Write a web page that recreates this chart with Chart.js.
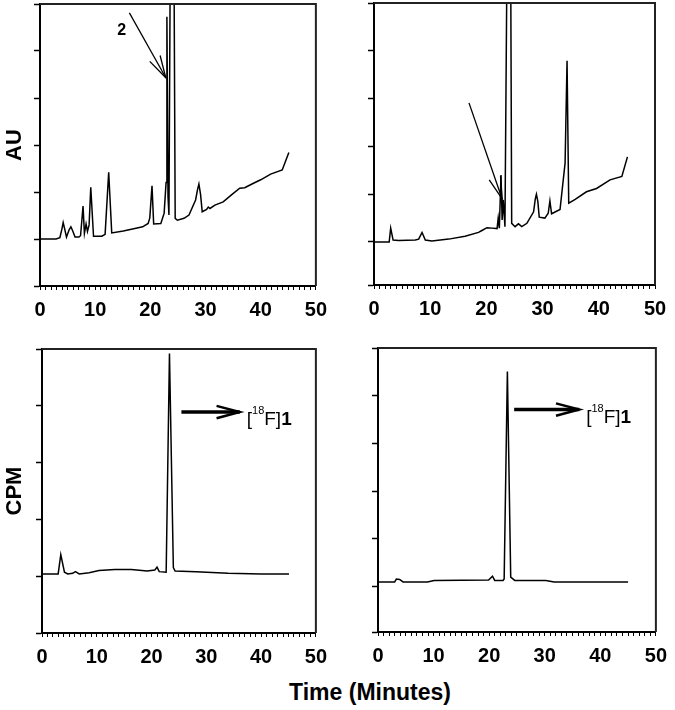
<!DOCTYPE html>
<html>
<head>
<meta charset="utf-8">
<script src="https://cdn.jsdelivr.net/npm/chart.js@4.4.0/dist/chart.umd.min.js"></script>
<style>
  html, body { margin: 0; padding: 0; background: #fff; width: 675px; height: 710px; overflow: hidden; }
  body { position: relative; }
  canvas { position: absolute; }
  #xtitle { position: absolute; left: 220px; width: 300px; top: 680px; text-align: center;
            font: bold 23px "Liberation Sans", Arial, sans-serif; line-height: 24px; color: #000; }
</style>
</head>
<body>
<canvas id="c1" width="335" height="330" style="left:0px;top:0px"></canvas>
<canvas id="c2" width="340" height="330" style="left:335px;top:0px"></canvas>
<canvas id="c3" width="335" height="345" style="left:0px;top:330px"></canvas>
<canvas id="c4" width="340" height="345" style="left:335px;top:330px"></canvas>
<div id="xtitle">Time (Minutes)</div>
<script>
// ---------- data (time in minutes, detector response in tick units) ----------
const timeUV1 = [0, 2.9, 3.6, 3.95, 4.2, 4.5, 4.8, 5.3, 5.6, 5.9, 6.35, 7.05, 7.35, 7.8, 8.05, 8.35, 8.6, 8.9, 9.2, 9.7, 11.2, 11.8, 12.45, 13.0, 15.1, 17.4, 18.6, 19.6, 19.9, 20.3, 20.6, 21.9, 22.5, 22.85, 23.0, 23.2, 23.37, 23.7, 24.2, 24.5, 24.9, 26.1, 27.0, 28.2, 28.55, 28.8, 29.1, 29.4, 30.2, 30.5, 30.8, 31.7, 33.2, 34.7, 36.2, 37.1, 38.6, 40.0, 41.8, 43.9, 45.1];
const auUV1   = [0, 0, 0.03, 0.2, 0.35, 0.2, 0.04, 0.2, 0.26, 0.18, 0.04, 0.04, 0.07, 0.70, 0.12, 0.32, 0.16, 0.30, 1.10, 0.06, 0.06, 0.10, 1.42, 0.13, 0.17, 0.23, 0.26, 0.33, 0.45, 1.13, 0.32, 0.33, 0.55, 1.20, 4.73, 0.90, 0.51, 8, 8, 0.44, 0.40, 0.44, 0.51, 0.83, 1.05, 1.17, 0.95, 0.58, 0.63, 0.68, 0.65, 0.72, 0.79, 0.94, 1.08, 1.09, 1.18, 1.26, 1.38, 1.47, 1.84];

const timeUV2 = [0, 2.7, 2.97, 3.4, 4.4, 7.35, 7.95, 8.55, 9.13, 10.3, 13.3, 16.2, 18.6, 19.2, 20.1, 21.0, 21.9, 22.1, 22.3, 22.6, 22.8, 23.0, 23.3, 23.8, 24.25, 24.5, 25.1, 25.7, 26.3, 27.2, 28.4, 28.7, 28.9, 29.15, 29.4, 30.4, 31.0, 31.3, 31.6, 33.1, 34.0, 34.35, 34.65, 35.8, 37.8, 39.6, 42.0, 44.1, 45.1];
const auUV2   = [0, 0, 0.29, 0.04, 0.03, 0.04, 0.06, 0.20, 0.04, 0.02, 0.06, 0.12, 0.20, 0.24, 0.30, 0.29, 0.28, 0.50, 0.29, 1.40, 0.46, 0.88, 0.32, 8, 8, 0.39, 0.32, 0.38, 0.32, 0.39, 0.63, 0.9, 1.00, 0.85, 0.52, 0.50, 0.60, 0.86, 0.59, 0.68, 1.65, 3.79, 0.81, 0.89, 1.05, 1.12, 1.30, 1.37, 1.78];

const timeRad1 = [0, 2.95, 3.43, 4.1, 4.7, 5.6, 6.1, 6.8, 8.6, 10.4, 13.3, 16.3, 19.2, 20.6, 21.0, 21.4, 22.67, 23.27, 23.98, 24.3, 28.1, 34.0, 40.0, 45.1];
const cpmRad1  = [0.04, 0.04, 0.38, 0.07, 0.04, 0.05, 0.08, 0.04, 0.06, 0.10, 0.12, 0.12, 0.09, 0.11, 0.16, 0.08, 0.07, 3.92, 0.15, 0.09, 0.08, 0.05, 0.04, 0.04];

const timeRad2 = [0, 3.0, 3.3, 3.9, 4.5, 8.9, 10.1, 19.9, 20.6, 21.0, 22.5, 22.7, 23.28, 23.88, 24.6, 30.2, 31.7, 45.0];
const cpmRad2  = [0.10, 0.10, 0.16, 0.15, 0.10, 0.10, 0.13, 0.14, 0.22, 0.13, 0.13, 0.16, 4.51, 0.20, 0.13, 0.13, 0.10, 0.10];

// tick positions / labels
const minuteTicks = Array.from({length: 51}, (_, i) => i);
const minuteLabels = [0, 10, 20, 30, 40, 50];
const auTicks1 = [-1, 0, 1, 2, 3, 4, 5];
const auTicks2 = [-0.9, 0, 1, 2, 3, 4, 5];
const cpmTicks1 = [-1, 0, 1, 2, 3, 4];
const cpmTicks2 = [-0.95, 0, 1, 2, 3, 4, 5];

// annotations in data coordinates [minutes, value]
const arrowUV1 = {from: [16.2, 4.81], to: [22.8, 3.43]};
const labelUV1 = {text: '2', at: [14.8, 4.44]};
const arrowUV2 = {from: [16.9, 2.91], to: [22.8, 0.90]};
const arrowRad1 = {from: [25.45, 2.89], to: [36.1, 2.89]};
const arrowRad2 = {from: [24.5, 3.71], to: [36.2, 3.71]};

const FONT = '"Liberation Sans", Arial, sans-serif';

function annotPlugin(ann) {
  return {
    id: 'annot',
    afterDatasetsDraw(chart) {
      const ctx = chart.ctx, xs = chart.scales.x, ys = chart.scales.y, a = chart.chartArea;
      ctx.save();
      ctx.strokeStyle = '#222';
      ctx.lineWidth = 2;
      ctx.beginPath();
      ctx.moveTo(a.left, a.top);
      ctx.lineTo(a.right, a.top);
      ctx.lineTo(a.right, a.bottom);
      ctx.stroke();
      ctx.strokeStyle = '#000';
      ctx.lineCap = 'butt';
      (ann.arrows || []).forEach(ar => {
        const x1 = xs.getPixelForValue(ar.from[0]), y1 = ys.getPixelForValue(ar.from[1]);
        const x2 = xs.getPixelForValue(ar.to[0]), y2 = ys.getPixelForValue(ar.to[1]);
        ctx.lineWidth = ar.lw;
        ctx.beginPath(); ctx.moveTo(x1, y1); ctx.lineTo(x2, y2); ctx.stroke();
        const ang = Math.atan2(y1 - y2, x1 - x2);
        const sp = 15 * Math.PI / 180;
        ctx.lineWidth = ar.hw;
        ctx.beginPath();
        ctx.moveTo(x2 + ar.head * Math.cos(ang + sp), y2 + ar.head * Math.sin(ang + sp));
        ctx.lineTo(x2, y2);
        ctx.lineTo(x2 + ar.head * Math.cos(ang - sp), y2 + ar.head * Math.sin(ang - sp));
        ctx.stroke();
      });
      ctx.fillStyle = '#000';
      (ann.labels || []).forEach(lb => {
        ctx.font = 'bold 16px ' + FONT;
        ctx.textAlign = 'center';
        ctx.textBaseline = 'middle';
        ctx.fillText(lb.text, xs.getPixelForValue(lb.at[0]), ys.getPixelForValue(lb.at[1]));
      });
      if (ann.product) {
        const ar = ann.product;
        let x = xs.getPixelForValue(ar.to[0]) + 7;
        const y = ys.getPixelForValue(ar.to[1]);
        const segs = [
          {t: '[', f: '19px ' + FONT, dy: 13},
          {t: '18', f: '11px ' + FONT, dy: 2},
          {t: 'F]', f: '19px ' + FONT, dy: 13},
          {t: '1', f: 'bold 19px ' + FONT, dy: 13}
        ];
        ctx.textAlign = 'left';
        ctx.textBaseline = 'alphabetic';
        segs.forEach(s => {
          ctx.font = s.f;
          ctx.fillText(s.t, x, y + s.dy);
          x += ctx.measureText(s.t).width;
        });
      }
      ctx.restore();
    }
  };
}

function makeChart(id, t, v, o) {
  const pts = t.map((x, i) => ({x: x, y: v[i]}));
  return new Chart(document.getElementById(id), {
    type: 'line',
    data: { datasets: [{ data: pts, borderColor: '#000', borderWidth: 1.5, pointRadius: 0, tension: 0, fill: false }] },
    options: {
      responsive: false, animation: false, events: [],
      layout: { padding: { left: 0, top: o.top, right: o.right, bottom: 0 } },
      plugins: { legend: { display: false }, tooltip: { enabled: false } },
      scales: {
        x: {
          type: 'linear', min: 0, max: 50,
          afterBuildTicks: s => { s.ticks = minuteTicks.map(val => ({value: val})); },
          afterFit: s => { s.height = o.xh; },
          grid: { drawOnChartArea: false, drawTicks: true, tickLength: 4, tickColor: '#000', tickWidth: 1 },
          border: { display: true, color: '#000', width: 2 },
          ticks: {
            autoSkip: false, maxRotation: 0, padding: 8, color: '#000',
            font: { family: FONT, size: 20, weight: 'bold' },
            callback: val => minuteLabels.includes(val) ? String(val) : ''
          }
        },
        y: {
          type: 'linear', min: o.yTicks[0], max: o.yTicks[o.yTicks.length - 1],
          afterBuildTicks: s => { s.ticks = o.yTicks.map(val => ({value: val})); },
          afterFit: s => { s.width = o.yw; },
          grid: { drawOnChartArea: false, drawTicks: true, tickLength: 6, tickColor: '#000', tickWidth: 1.5 },
          border: { display: true, color: '#000', width: 2 },
          ticks: { display: false },
          title: o.title ? { display: true, text: o.title, color: '#000', padding: {top: 2, bottom: 0},
                             font: { family: FONT, size: 22, weight: 'bold' } } : { display: false }
        }
      }
    },
    plugins: [annotPlugin(o.ann)]
  });
}

makeChart('c1', timeUV1, auUV1, {top: 4, right: 14, xh: 44, yw: 40, yTicks: auTicks1, title: 'AU',
  ann: {arrows: [Object.assign({lw: 1.3, hw: 1.3, head: 23}, arrowUV1)], labels: [labelUV1]}});
makeChart('c2', timeUV2, auUV2, {top: 3, right: 20, xh: 45, yw: 39, yTicks: auTicks2, title: null,
  ann: {arrows: [Object.assign({lw: 1.3, hw: 1.3, head: 23}, arrowUV2)]}});
makeChart('c3', timeRad1, cpmRad1, {top: 19, right: 12, xh: 42, yw: 42, yTicks: cpmTicks1, title: 'CPM',
  ann: {arrows: [Object.assign({lw: 3.5, hw: 2.5, head: 24}, arrowRad1)], product: arrowRad1}});
makeChart('c4', timeRad2, cpmRad2, {top: 18, right: 15, xh: 43, yw: 43, yTicks: cpmTicks2, title: null,
  ann: {arrows: [Object.assign({lw: 3.5, hw: 2.5, head: 24}, arrowRad2)], product: arrowRad2}});
</script>
</body>
</html>
